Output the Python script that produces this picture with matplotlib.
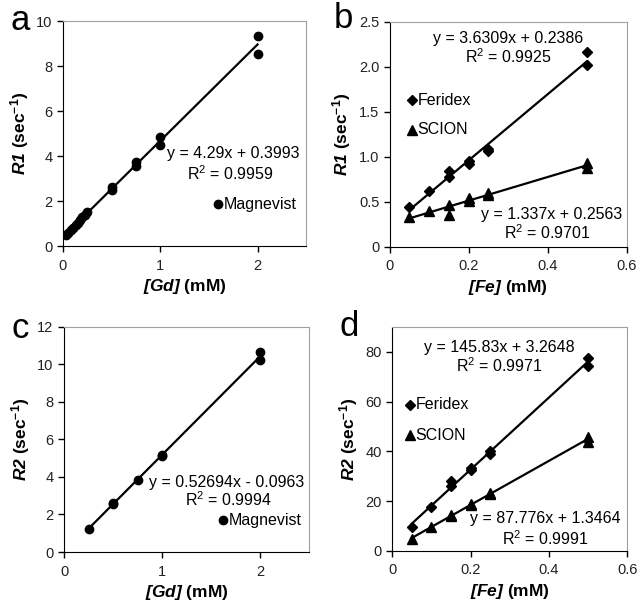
import numpy as np
import matplotlib
matplotlib.use('Agg')
import matplotlib.pyplot as plt

plt.rcParams['font.family'] = ['Liberation Sans', 'DejaVu Sans']
plt.rcParams['mathtext.fontset'] = 'custom'
plt.rcParams['mathtext.rm'] = 'Liberation Sans'
plt.rcParams['mathtext.it'] = 'Liberation Sans:italic'
plt.rcParams['mathtext.bf'] = 'Liberation Sans:bold'
plt.rcParams['mathtext.bfit'] = 'Liberation Sans:bold:italic'

# panel a: R1 vs [Gd], Magnevist
gd_a = [0.03, 0.05, 0.08, 0.1, 0.13, 0.15, 0.18, 0.2, 0.23, 0.25,
        0.5, 0.5, 0.75, 0.75, 1.0, 1.0, 2.0, 2.0]
r1_mag = [0.48, 0.6, 0.72, 0.82, 0.95, 1.05, 1.18, 1.28, 1.38, 1.5,
          2.5, 2.65, 3.55, 3.75, 4.5, 4.85, 8.55, 9.35]

# panel b: R1 vs [Fe]
fe = [0.05, 0.1, 0.15, 0.15, 0.2, 0.2, 0.25, 0.25, 0.5, 0.5]
r1_ferid = [0.44, 0.62, 0.78, 0.84, 0.92, 0.95, 1.07, 1.09, 2.02, 2.16]
r1_scion = [0.33, 0.4, 0.35, 0.47, 0.51, 0.54, 0.58, 0.6, 0.88, 0.93]

# panel c: R2 vs [Gd], Magnevist
gd_c = [0.25, 0.5, 0.5, 0.75, 1.0, 1.0, 2.0, 2.0]
r2_mag = [1.25, 2.55, 2.62, 3.85, 5.1, 5.18, 10.25, 10.65]

# panel d: R2 vs [Fe]
r2_ferid = [9.5, 17.5, 26.0, 28.0, 32.5, 33.5, 39.0, 40.0, 74.5, 77.5]
r2_scion = [5.0, 9.5, 14.0, 14.5, 18.3, 18.8, 22.8, 23.3, 44.0, 46.0]

fig = plt.figure(figsize=(6.42, 6.05), dpi=100)
axa = fig.add_axes([0.098, 0.593, 0.379, 0.372])
axb = fig.add_axes([0.607, 0.592, 0.369, 0.372])
axc = fig.add_axes([0.0997, 0.0876, 0.382, 0.372])
axd = fig.add_axes([0.611, 0.0893, 0.366, 0.370])

FS = 11.5   # equations / legend
LFS = 12.5  # axis labels
TFS = 10.5  # ticks
MS_O, MS_D, MS_T = 6, 5.2, 6.5


def style(ax):
    for s in ['top', 'right']:
        ax.spines[s].set_color('#a0a0a0')
    for s in ['left', 'bottom']:
        ax.spines[s].set_color('black')
    ax.tick_params(direction='out', length=4, width=1, labelsize=TFS,
                   colors='black', labelcolor='#222222')
    ax.tick_params(axis='x', pad=5)


def trend(ax, x, y):
    k, b = np.polyfit(x, y, 1)
    xs = np.array([min(x), max(x)])
    ax.plot(xs, k * xs + b, color='black', lw=1.6, zorder=2)


def labels(ax, yl, xl):
    ax.set_ylabel(r'$\mathbfit{%s}$ (sec$^{\mathbf{-1}}$)' % yl,
                  fontsize=LFS, fontweight='bold', labelpad=4)
    ax.set_xlabel(r'$\mathbfit{%s}$ (mM)' % xl,
                  fontsize=LFS, fontweight='bold', labelpad=3)


# ---- a
ax = axa
style(ax)
trend(ax, gd_a, r1_mag)
ax.plot(gd_a, r1_mag, 'o', color='black', ms=MS_O, zorder=3)
ax.set_xlim(0, 2.5)
ax.set_ylim(0, 10)
ax.set_xticks([0, 1, 2])
ax.set_yticks(range(0, 11, 2))
ax.text(1.75, 4.13, 'y = 4.29x + 0.3993', fontsize=FS, ha='center', va='center')
ax.text(1.72, 3.24, 'R$^2$ = 0.9959', fontsize=FS, ha='center', va='center')
ax.plot([1.59], [1.87], 'o', color='black', ms=MS_O)
ax.text(1.65, 1.87, 'Magnevist', fontsize=FS, ha='left', va='center')
labels(ax, 'R1', '[Gd]')

# ---- b
ax = axb
style(ax)
trend(ax, fe, r1_ferid)
trend(ax, fe, r1_scion)
ax.plot(fe, r1_ferid, 'D', color='black', ms=MS_D, zorder=3)
ax.plot(fe, r1_scion, '^', color='black', ms=MS_T, zorder=3)
ax.set_xlim(0, 0.6)
ax.set_ylim(0, 2.5)
ax.set_xticks([0, 0.2, 0.4, 0.6])
ax.set_xticklabels(['0', '0.2', '0.4', '0.6'])
ax.set_yticks([0, 0.5, 1.0, 1.5, 2.0, 2.5])
ax.set_yticklabels(['0', '0.5', '1.0', '1.5', '2.0', '2.5'])
ax.text(0.30, 2.31, 'y = 3.6309x + 0.2386', fontsize=FS, ha='center', va='center')
ax.text(0.30, 2.11, 'R$^2$ = 0.9925', fontsize=FS, ha='center', va='center')
ax.text(0.41, 0.36, 'y = 1.337x + 0.2563', fontsize=FS, ha='center', va='center')
ax.text(0.40, 0.155, 'R$^2$ = 0.9701', fontsize=FS, ha='center', va='center')
ax.plot([0.056], [1.63], 'D', color='black', ms=MS_D)
ax.text(0.07, 1.63, 'Feridex', fontsize=FS, ha='left', va='center')
ax.plot([0.056], [1.30], '^', color='black', ms=MS_T)
ax.text(0.07, 1.30, 'SCION', fontsize=FS, ha='left', va='center')
labels(ax, 'R1', '[Fe]')

# ---- c
ax = axc
style(ax)
trend(ax, gd_c, r2_mag)
ax.plot(gd_c, r2_mag, 'o', color='black', ms=MS_O, zorder=3)
ax.set_xlim(0, 2.5)
ax.set_ylim(0, 12)
ax.set_xticks([0, 1, 2])
ax.set_yticks(range(0, 13, 2))
ax.text(1.66, 3.68, 'y = 0.52694x - 0.0963', fontsize=FS, ha='center', va='center')
ax.text(1.68, 2.77, 'R$^2$ = 0.9994', fontsize=FS, ha='center', va='center')
ax.plot([1.62], [1.7], 'o', color='black', ms=MS_O)
ax.text(1.68, 1.7, 'Magnevist', fontsize=FS, ha='left', va='center')
labels(ax, 'R2', '[Gd]')

# ---- d
ax = axd
style(ax)
trend(ax, fe, r2_ferid)
trend(ax, fe, r2_scion)
ax.plot(fe, r2_ferid, 'D', color='black', ms=MS_D, zorder=3)
ax.plot(fe, r2_scion, '^', color='black', ms=MS_T, zorder=3)
ax.set_xlim(0, 0.6)
ax.set_ylim(0, 90)
ax.set_xticks([0, 0.2, 0.4, 0.6])
ax.set_xticklabels(['0', '0.2', '0.4', '0.6'])
ax.set_yticks(range(0, 81, 20))
ax.text(0.273, 82, 'y = 145.83x + 3.2648', fontsize=FS, ha='center', va='center')
ax.text(0.273, 74.7, 'R$^2$ = 0.9971', fontsize=FS, ha='center', va='center')
ax.text(0.39, 12.9, 'y = 87.776x + 1.3464', fontsize=FS, ha='center', va='center')
ax.text(0.39, 4.8, 'R$^2$ = 0.9991', fontsize=FS, ha='center', va='center')
ax.plot([0.045], [58.7], 'D', color='black', ms=MS_D)
ax.text(0.059, 58.7, 'Feridex', fontsize=FS, ha='left', va='center')
ax.plot([0.045], [46.6], '^', color='black', ms=MS_T)
ax.text(0.059, 46.6, 'SCION', fontsize=FS, ha='left', va='center')
labels(ax, 'R2', '[Fe]')

# panel letters
fig.text(20 / 642, 1 - 21 / 605, 'a', fontsize=25, ha='center', va='center')
fig.text(343 / 642, 1 - 18 / 605, 'b', fontsize=25, ha='center', va='center')
fig.text(20 / 642, 1 - 329 / 605, 'c', fontsize=25, ha='center', va='center')
fig.text(349 / 642, 1 - 326 / 605, 'd', fontsize=25, ha='center', va='center')

fig.savefig('out.png', dpi=100)
